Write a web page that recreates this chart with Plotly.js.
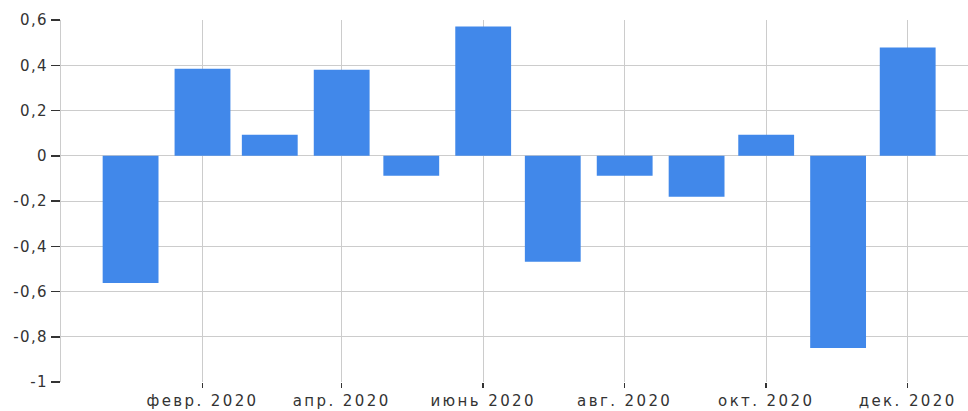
<!DOCTYPE html>
<html><head><meta charset="utf-8">
<script src="https://cdn.plot.ly/plotly-3.0.1.min.js"></script>
<style>html,body{margin:0;padding:0;background:#fff}#c{width:968px;height:411px}
.xtick text{letter-spacing:2.4px}
.ytick text{letter-spacing:1.4px}
</style>
</head><body><div id="c"></div>
<script>
const months = ['2020-01-01','2020-02-01','2020-03-01','2020-04-01','2020-05-01','2020-06-01','2020-07-01','2020-08-01','2020-09-01','2020-10-01','2020-11-01','2020-12-01'];
const values = [-0.562, 0.385, 0.093, 0.38, -0.088, 0.571, -0.469, -0.088, -0.181, 0.093, -0.85, 0.478];
const xTickVals = ['2020-02-01','2020-04-01','2020-06-01','2020-08-01','2020-10-01','2020-12-01'];
const xTickText = ['февр. 2020','апр. 2020','июнь 2020','авг. 2020','окт. 2020','дек. 2020'];
const yTickVals = [-1,-0.8,-0.6,-0.4,-0.2,0,0.2,0.4,0.6];
const yTickText = ['-1','-0,8','-0,6','-0,4','-0,2','0','0,2','0,4','0,6'];

Plotly.newPlot('c', [{
  type: 'bar', x: months, y: values,
  marker: {color: '#4188EA', line: {width: 0}},
  hoverinfo: 'none'
}], {
  width: 968, height: 411,
  margin: {l: 61, r: 0, t: 20, b: 29, pad: 0},
  bargap: 0.17,
  showlegend: false,
  plot_bgcolor: '#fff', paper_bgcolor: '#fff',
  font: {family: 'DejaVu Sans', size: 15, color: '#333'},
  xaxis: {
    type: 'date', range: ['2019-12-02', '2020-12-27'],
    tickmode: 'array', tickvals: xTickVals, ticktext: xTickText,
    showgrid: true, gridcolor: '#cccccc', gridwidth: 1,
    ticks: 'outside', ticklen: 5, tickcolor: '#333', tickwidth: 1.5,
    showline: false, zeroline: false,
    tickfont: {family: 'DejaVu Sans', size: 15, color: '#333'}
  },
  yaxis: {
    range: [-1, 0.6],
    tickmode: 'array', tickvals: yTickVals, ticktext: yTickText,
    showgrid: true, gridcolor: '#cccccc', gridwidth: 1,
    zeroline: true, zerolinecolor: '#cccccc', zerolinewidth: 1,
    showline: true, linecolor: '#cccccc', linewidth: 1,
    ticks: 'outside', ticklen: 9, tickcolor: '#333', tickwidth: 1.5,
    tickfont: {family: 'DejaVu Sans', size: 15, color: '#333'}
  }
}, {displayModeBar: false, staticPlot: true});
</script></body></html>
